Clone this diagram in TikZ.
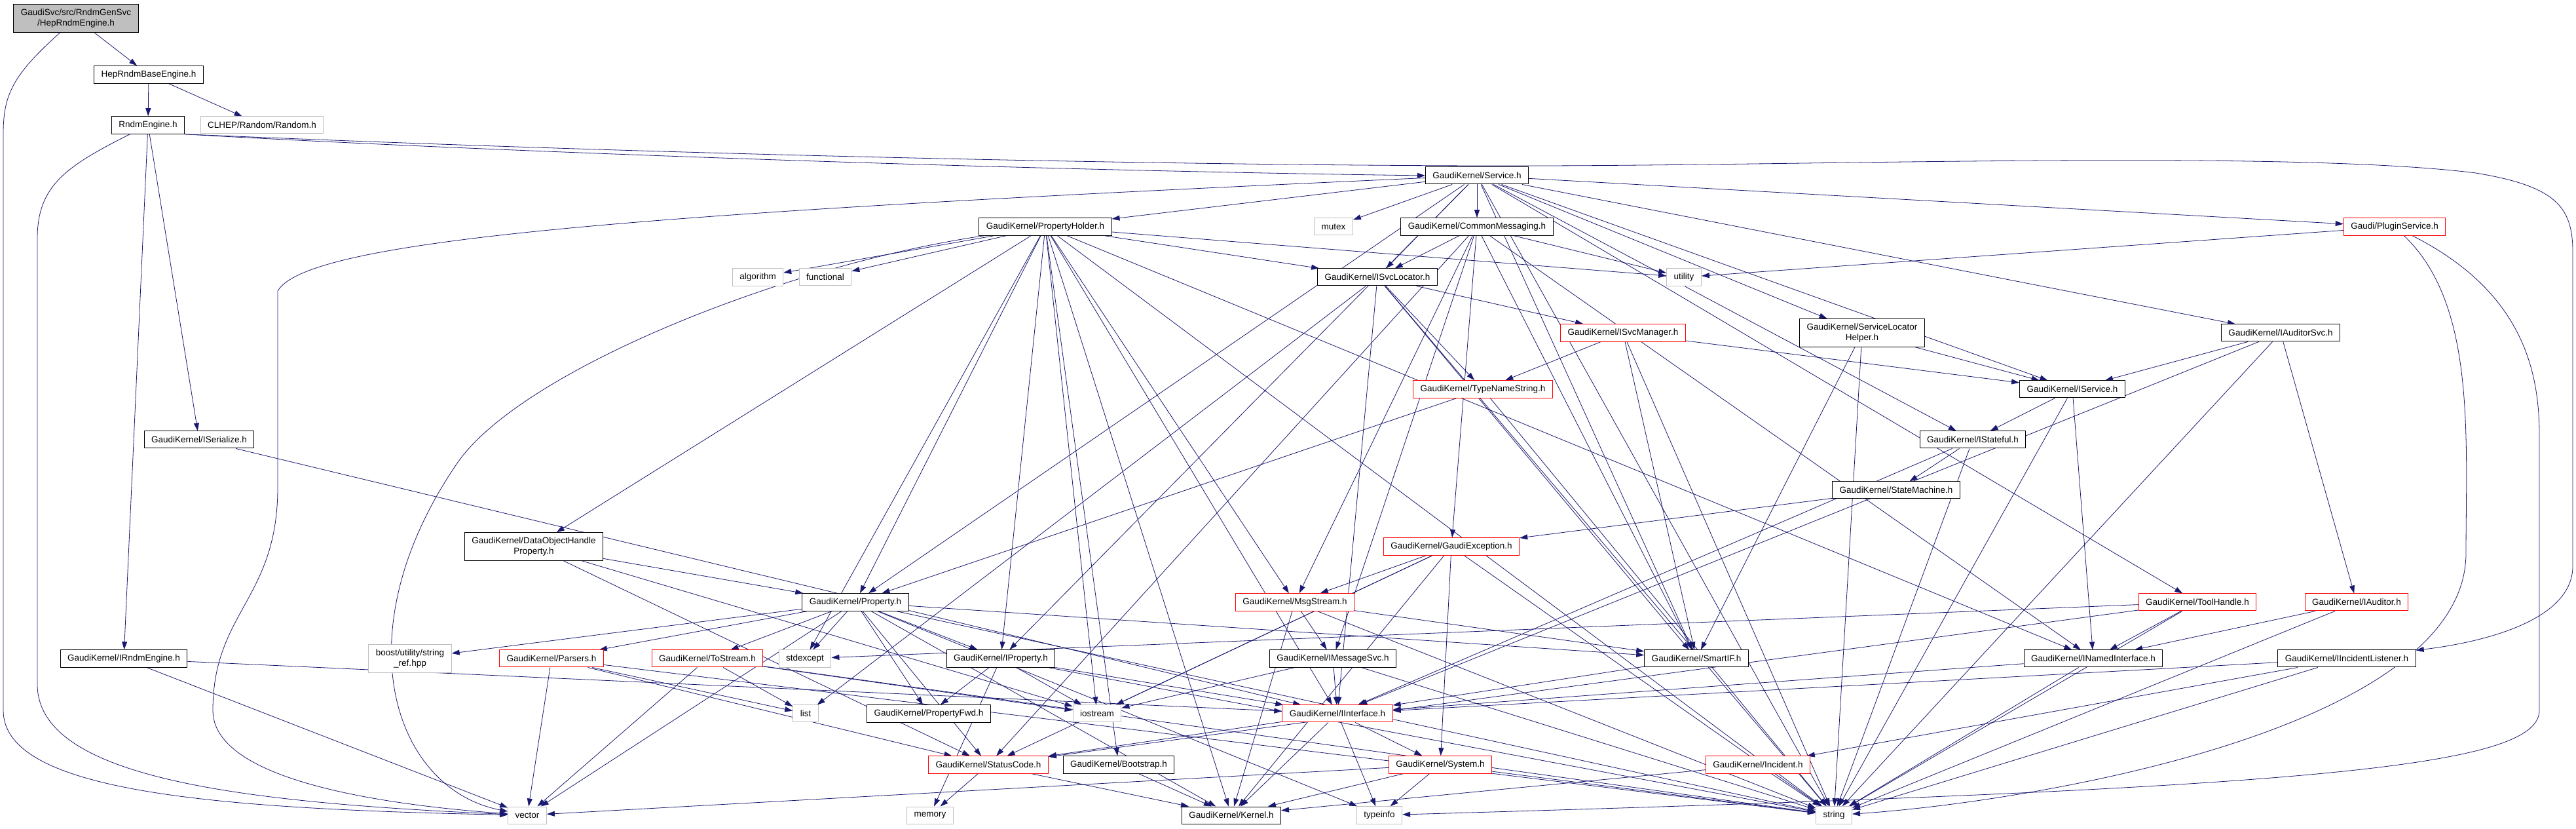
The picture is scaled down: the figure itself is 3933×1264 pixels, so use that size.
\documentclass[tikz,border=0pt]{standalone}
\usepackage{fontspec}
\setmainfont{Liberation Sans}
\usetikzlibrary{arrows.meta,backgrounds}
\definecolor{dxedge}{HTML}{191970}
\definecolor{dxgray}{HTML}{BFBFBF}
\definecolor{dxred}{HTML}{FF0000}
\tikzset{
  hdr/.style={draw=black,fill=white,line width=1pt,minimum height=26pt,
    inner xsep=11pt,inner ysep=7pt,align=center,font=\fontsize{13.5}{16}\selectfont},
  trunc/.style={hdr,draw=dxred},
  ext/.style={hdr,draw=dxgray},
  topfile/.style={hdr,fill=dxgray},
  dep/.style={draw=dxedge,line width=0.8pt,-{Triangle[length=12pt,width=8pt]}},
}
\begin{document}
\begin{tikzpicture}[x=1pt,y=1pt]
  \useasboundingbox (0,0) rectangle (3933,1264);
  % rows from top to bottom
  \node[topfile] (root) at (116,1236) {GaudiSvc/src/RndmGenSvc\\/HepRndmEngine.h};
  \node[hdr] (hepbase) at (227,1150) {HepRndmBaseEngine.h};
  \node[hdr] (rndmeng) at (226,1073) {RndmEngine.h};
  \node[ext] (clhep) at (400,1073) {CLHEP/Random/Random.h};
  \node[hdr] (service) at (2255,996) {GaudiKernel/Service.h};
  \node[hdr] (propholder) at (1596,918) {GaudiKernel/PropertyHolder.h};
  \node[ext] (mutex) at (2036,918) {mutex};
  \node[hdr] (commsg) at (2255,918) {GaudiKernel/CommonMessaging.h};
  \node[trunc] (plugin) at (3656,918) {Gaudi/PluginService.h};
  \node[ext] (algorithm) at (1157,841) {algorithm};
  \node[ext] (functional) at (1260,841) {functional};
  \node[hdr] (isvcloc) at (2103,841) {GaudiKernel/ISvcLocator.h};
  \node[ext] (utility) at (2571,841) {utility};
  \node[trunc] (isvcmgr) at (2478,756) {GaudiKernel/ISvcManager.h};
  \node[hdr] (slhelper) at (2843,756) {GaudiKernel/ServiceLocator\\Helper.h};
  \node[hdr] (iauditsvc) at (3482,756) {GaudiKernel/IAuditorSvc.h};
  \node[trunc] (typename) at (2264,670) {GaudiKernel/TypeNameString.h};
  \node[hdr] (iservice) at (3164,670) {GaudiKernel/IService.h};
  \node[hdr] (iserialize) at (304,593) {GaudiKernel/ISerialize.h};
  \node[hdr] (istateful) at (3012,593) {GaudiKernel/IStateful.h};
  \node[hdr] (statemach) at (2895,516) {GaudiKernel/StateMachine.h};
  \node[hdr] (dohprop) at (815,430) {GaudiKernel/DataObjectHandle\\Property.h};
  \node[trunc] (gexcept) at (2216,430) {GaudiKernel/GaudiException.h};
  \node[hdr] (property) at (1306,345) {GaudiKernel/Property.h};
  \node[trunc] (msgstream) at (1977,345) {GaudiKernel/MsgStream.h};
  \node[trunc] (toolhandle) at (3355,345) {GaudiKernel/ToolHandle.h};
  \node[trunc] (iauditor) at (3598,345) {GaudiKernel/IAuditor.h};
  \node[hdr] (irndm) at (189,259) {GaudiKernel/IRndmEngine.h};
  \node[ext] (boost) at (626,259) {boost/utility/string\\\_ref.hpp};
  \node[trunc] (parsers) at (842,259) {GaudiKernel/Parsers.h};
  \node[trunc] (tostream) at (1080,259) {GaudiKernel/ToStream.h};
  \node[ext] (stdexcept) at (1229,259) {stdexcept};
  \node[hdr] (iproperty) at (1528,259) {GaudiKernel/IProperty.h};
  \node[hdr] (imsgsvc) at (2035,259) {GaudiKernel/IMessageSvc.h};
  \node[hdr] (smartif) at (2590,259) {GaudiKernel/SmartIF.h};
  \node[hdr] (inamed) at (3196,259) {GaudiKernel/INamedInterface.h};
  \node[hdr] (iincident) at (3583,259) {GaudiKernel/IIncidentListener.h};
  \node[ext] (list) at (1230,175) {list};
  \node[hdr] (propfwd) at (1418,175) {GaudiKernel/PropertyFwd.h};
  \node[ext] (iostream) at (1675,175) {iostream};
  \node[trunc] (iinterface) at (2042,175) {GaudiKernel/IInterface.h};
  \node[trunc] (statuscode) at (1509,97) {GaudiKernel/StatusCode.h};
  \node[hdr] (bootstrap) at (1708,97) {GaudiKernel/Bootstrap.h};
  \node[trunc] (system) at (2199,97) {GaudiKernel/System.h};
  \node[trunc] (incident) at (2684,97) {GaudiKernel/Incident.h};
  \node[ext] (vector) at (805,20) {vector};
  \node[ext] (memory) at (1420,20) {memory};
  \node[hdr] (kernel) at (1880,20) {GaudiKernel/Kernel.h};
  \node[ext] (typeinfo) at (2106,20) {typeinfo};
  \node[ext] (string) at (2800,20) {string};

  \begin{scope}[on background layer]
    % include edges
    \foreach \a/\b in {root/hepbase, hepbase/rndmeng, hepbase/clhep,
      rndmeng/irndm, rndmeng/iserialize,
      irndm/iinterface, irndm/vector, iserialize/iinterface,
      service/mutex, service/commsg, service/isvcloc, service/propholder,
      service/property, service/iproperty, service/smartif, service/istateful,
      service/iservice, service/slhelper, service/iauditsvc, service/plugin,
      service/toolhandle, service/string,
      propholder/algorithm, propholder/functional, propholder/stdexcept,
      propholder/iostream, propholder/utility, propholder/isvcloc,
      propholder/property, propholder/iproperty, propholder/dohprop,
      propholder/msgstream, propholder/bootstrap, propholder/string,
      propholder/kernel, propholder/iinterface, propholder/inamed,
      commsg/isvcloc, commsg/msgstream, commsg/imsgsvc, commsg/gexcept,
      commsg/smartif, commsg/utility, commsg/inamed, commsg/statuscode,
      isvcloc/list, isvcloc/typename, isvcloc/isvcmgr, isvcloc/smartif,
      isvcloc/iinterface, isvcloc/string,
      isvcmgr/typename, isvcmgr/smartif, isvcmgr/string, isvcmgr/iservice,
      typename/property, typename/string,
      slhelper/iservice, slhelper/smartif, slhelper/string,
      iauditsvc/iservice, iauditsvc/iauditor, iauditsvc/iinterface, iauditsvc/string,
      plugin/utility,
      iservice/istateful, iservice/inamed, iservice/string,
      istateful/statemach, istateful/iinterface, istateful/string,
      statemach/gexcept,
      gexcept/msgstream, gexcept/iostream, gexcept/statuscode, gexcept/system,
      gexcept/string, gexcept/kernel,
      dohprop/property, dohprop/statuscode, dohprop/iostream,
      property/boost, property/parsers, property/tostream, property/stdexcept,
      property/iproperty, property/propfwd, property/smartif, property/string,
      property/vector, property/kernel, property/statuscode, property/typeinfo,
      msgstream/imsgsvc, msgstream/smartif, msgstream/kernel, msgstream/string,
      toolhandle/inamed, toolhandle/stdexcept, toolhandle/statuscode, toolhandle/string,
      iauditor/inamed, iauditor/string,
      parsers/vector, parsers/list, parsers/string, parsers/statuscode,
      tostream/vector, tostream/list, tostream/iostream, tostream/string,
      iproperty/propfwd, iproperty/iostream, iproperty/iinterface,
      iproperty/memory, iproperty/string,
      imsgsvc/iinterface, imsgsvc/iostream, imsgsvc/string,
      smartif/iinterface, inamed/iinterface, inamed/string,
      iincident/iinterface, iincident/incident, iincident/string,
      iinterface/system, iinterface/typeinfo, iinterface/kernel, iinterface/statuscode,
      statuscode/memory, statuscode/kernel, bootstrap/kernel,
      system/typeinfo, system/kernel, system/string, system/vector,
      incident/string, incident/kernel}
      \draw[dep] (\a) -- (\b);
    % long routed edges
    \draw[dep] (root) .. controls (20,1150) and (5,1120) .. (5,1060) -- (5,180)
      .. controls (5,60) and (300,30) .. (vector);
    \draw[dep] (rndmeng) .. controls (100,1010) and (57,980) .. (57,900) -- (57,220)
      .. controls (57,80) and (350,40) .. (vector);
    \draw[dep] (rndmeng.south east) .. controls (700,1035) and (1500,1005) .. (service.west);
    \draw[dep] (service) .. controls (1000,940) and (470,900) .. (424,820) -- (424,520)
      .. controls (424,350) and (325,330) .. (325,180) .. controls (325,70) and (600,35) .. (vector);
    \draw[dep] (propholder) .. controls (1200,860) and (800,700) .. (700,560)
      .. controls (520,300) and (600,60) .. (vector);
    \draw[dep] (rndmeng.south east) .. controls (1200,1020) and (2000,1010) .. (2357,1011)
      .. controls (2800,1012) and (3500,1035) .. (3780,1000)
      .. controls (3900,980) and (3928,950) .. (3928,880) -- (3928,400)
      .. controls (3928,320) and (3800,285) .. (iincident);
    \draw[dep] (plugin) .. controls (3780,800) and (3765,600) .. (3765,420)
      .. controls (3765,150) and (3100,40) .. (string);
    \draw[dep] (plugin) .. controls (3850,820) and (3877,700) .. (3877,600) -- (3877,180)
      .. controls (3877,90) and (3500,60) .. (typeinfo);
  \end{scope}
\end{tikzpicture}
\end{document}
